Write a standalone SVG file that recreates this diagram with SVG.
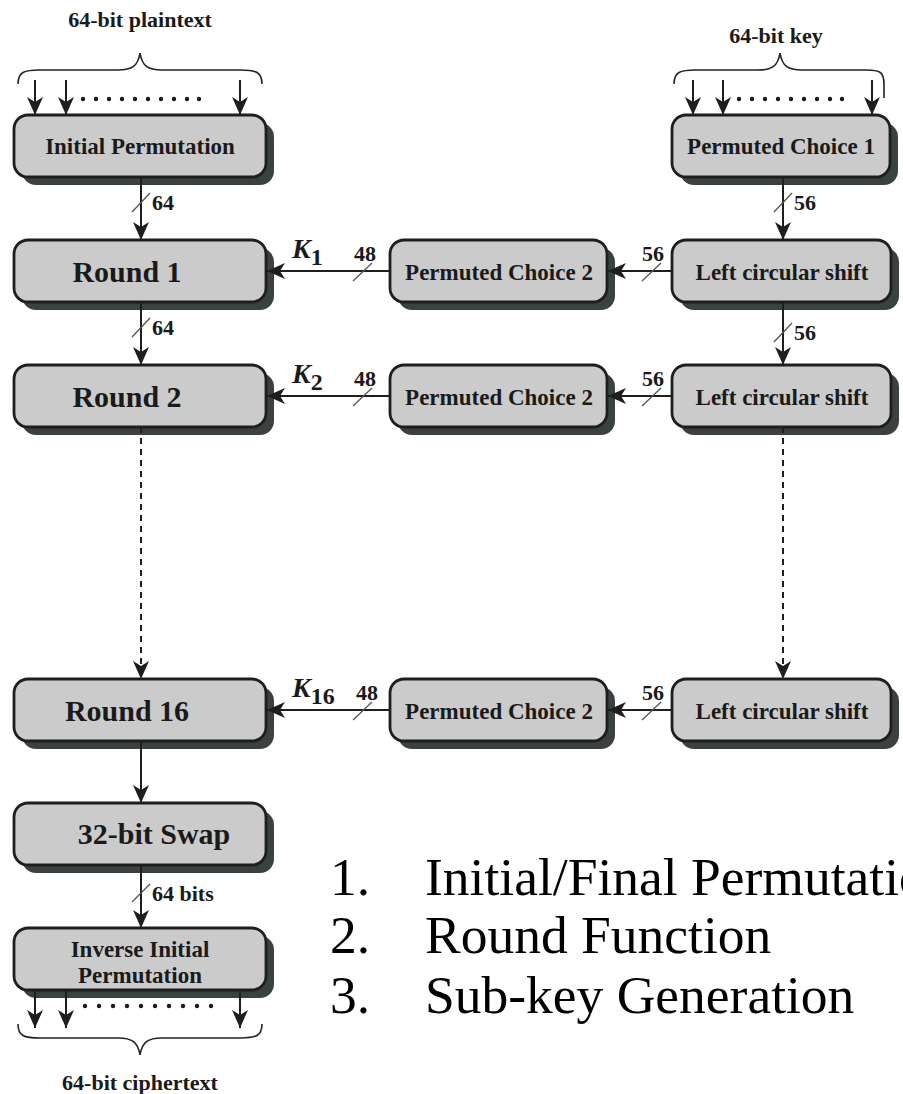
<svg xmlns="http://www.w3.org/2000/svg" width="903" height="1094" viewBox="0 0 903 1094">
<defs>
<style>
.box{fill:#cbcbcb;stroke:#1e1e1e;stroke-width:2.8}
.sh{fill:#3b4141}
.t{font-family:"Liberation Serif","Times New Roman",serif;font-weight:bold;fill:#1a1a1a;text-anchor:middle}
.big{font-size:30px}
.mid{font-size:23px}
.lab{font-size:22px;font-family:"Liberation Serif","Times New Roman",serif;font-weight:bold;fill:#1a1a1a}
.ln{stroke:#1e1e1e;stroke-width:2;fill:none}
.dash{stroke:#1e1e1e;stroke-width:2;fill:none;stroke-dasharray:6,5}
.sl{stroke:#555;stroke-width:1.3}
.br{stroke:#222;stroke-width:1.6;fill:none}
.dot{fill:#1a1a1a}
.k{font-family:"Liberation Serif","Times New Roman",serif;font-weight:bold;font-style:italic;font-size:28px;fill:#1a1a1a}
.ks{font-family:"Liberation Serif","Times New Roman",serif;font-weight:bold;font-size:24px;fill:#1a1a1a}
.list{font-family:"Liberation Serif","Times New Roman",serif;font-size:53.5px;fill:#000}
</style>
<marker id="ah" markerUnits="userSpaceOnUse" markerWidth="20" markerHeight="18" refX="18" refY="8" orient="auto">
<path d="M0,0 L18,8 L0,16 L5,8 z" fill="#1e1e1e"/>
</marker>
</defs>

<!-- Input brace and label -->
<g id="plaintext-input">
<text class="lab" x="140" y="27" text-anchor="middle">64-bit plaintext</text>
<path class="br" d="M18,84 C18,72 24,70 40,70 L118,70 C132,70 138,66 140,53 C142,66 148,70 162,70 L240,70 C256,70 262,72 262,84"/>
<g class="dot">
<circle cx="83" cy="99" r="2.2"/><circle cx="96" cy="99" r="2.2"/><circle cx="109" cy="99" r="2.2"/><circle cx="122" cy="99" r="2.2"/><circle cx="135" cy="99" r="2.2"/><circle cx="148" cy="99" r="2.2"/><circle cx="161" cy="99" r="2.2"/><circle cx="174" cy="99" r="2.2"/><circle cx="187" cy="99" r="2.2"/><circle cx="199" cy="99" r="2.2"/>
</g>
</g>

<g id="key-input">
<text class="lab" x="776" y="43" text-anchor="middle">64-bit key</text>
<path class="br" d="M674,84 C674,72 680,70 696,70 L758,70 C772,70 778,66 780,53 C782,66 788,70 802,70 L866,70 C880,70 884,72 884,84 L884,98"/>
<g class="dot">
<circle cx="739" cy="99" r="2.2"/><circle cx="752" cy="99" r="2.2"/><circle cx="765" cy="99" r="2.2"/><circle cx="778" cy="99" r="2.2"/><circle cx="791" cy="99" r="2.2"/><circle cx="804" cy="99" r="2.2"/><circle cx="817" cy="99" r="2.2"/><circle cx="830" cy="99" r="2.2"/><circle cx="842" cy="99" r="2.2"/>
</g>
</g>

<!-- Nodes -->
<g id="initial-permutation">
<rect class="sh" x="22" y="123" width="252" height="62" rx="14"/>
<rect class="box" x="14" y="115" width="252" height="62" rx="14"/>
<text class="t mid" x="140" y="154">Initial Permutation</text>
</g>
<g id="permuted-choice-1">
<rect class="sh" x="680" y="123" width="218" height="62" rx="14"/>
<rect class="box" x="672" y="115" width="218" height="62" rx="14"/>
<text class="t mid" x="781" y="154">Permuted Choice 1</text>
</g>

<g id="round-1">
<rect class="sh" x="22" y="248" width="252" height="62" rx="14"/>
<rect class="box" x="14" y="240" width="252" height="62" rx="14"/>
<text class="t big" x="127" y="282">Round 1</text>
</g>
<g id="pc2-1">
<rect class="sh" x="398" y="248" width="217" height="62" rx="14"/>
<rect class="box" x="390" y="240" width="217" height="62" rx="14"/>
<text class="t mid" x="499" y="280">Permuted Choice 2</text>
</g>
<g id="lcs-1">
<rect class="sh" x="680" y="248" width="219" height="62" rx="14"/>
<rect class="box" x="672" y="240" width="219" height="62" rx="14"/>
<text class="t mid" x="782" y="280">Left circular shift</text>
</g>

<g id="round-2">
<rect class="sh" x="22" y="373" width="252" height="62" rx="14"/>
<rect class="box" x="14" y="365" width="252" height="62" rx="14"/>
<text class="t big" x="127" y="407">Round 2</text>
</g>
<g id="pc2-2">
<rect class="sh" x="398" y="373" width="217" height="62" rx="14"/>
<rect class="box" x="390" y="365" width="217" height="62" rx="14"/>
<text class="t mid" x="499" y="405">Permuted Choice 2</text>
</g>
<g id="lcs-2">
<rect class="sh" x="680" y="373" width="219" height="62" rx="14"/>
<rect class="box" x="672" y="365" width="219" height="62" rx="14"/>
<text class="t mid" x="782" y="405">Left circular shift</text>
</g>

<g id="round-16">
<rect class="sh" x="22" y="687" width="252" height="62" rx="14"/>
<rect class="box" x="14" y="679" width="252" height="62" rx="14"/>
<text class="t big" x="127" y="721">Round 16</text>
</g>
<g id="pc2-16">
<rect class="sh" x="398" y="687" width="217" height="62" rx="14"/>
<rect class="box" x="390" y="679" width="217" height="62" rx="14"/>
<text class="t mid" x="499" y="719">Permuted Choice 2</text>
</g>
<g id="lcs-16">
<rect class="sh" x="680" y="687" width="219" height="62" rx="14"/>
<rect class="box" x="672" y="679" width="219" height="62" rx="14"/>
<text class="t mid" x="782" y="719">Left circular shift</text>
</g>

<g id="swap">
<rect class="sh" x="22" y="811" width="252" height="62" rx="14"/>
<rect class="box" x="14" y="803" width="252" height="62" rx="14"/>
<text class="t big" x="154" y="844">32-bit Swap</text>
</g>

<g id="inverse-initial-permutation">
<rect class="sh" x="22" y="936" width="252" height="62" rx="14"/>
<rect class="box" x="14" y="928" width="252" height="62" rx="14"/>
<text class="t mid" x="140" y="957">Inverse Initial</text>
<text class="t mid" x="140" y="983">Permutation</text>
</g>

<g id="ciphertext-output">
<g class="dot">
<circle cx="85" cy="1006" r="2.2"/><circle cx="99" cy="1006" r="2.2"/><circle cx="113" cy="1006" r="2.2"/><circle cx="127" cy="1006" r="2.2"/><circle cx="141" cy="1006" r="2.2"/><circle cx="155" cy="1006" r="2.2"/><circle cx="169" cy="1006" r="2.2"/><circle cx="183" cy="1006" r="2.2"/><circle cx="197" cy="1006" r="2.2"/><circle cx="211" cy="1006" r="2.2"/>
</g>
<path class="br" d="M18,1024 C18,1036 24,1038 40,1038 L118,1038 C132,1038 138,1042 140,1055 C142,1042 148,1038 162,1038 L240,1038 C256,1038 262,1036 262,1024"/>
<text class="lab" x="140" y="1090" text-anchor="middle">64-bit ciphertext</text>
</g>

<!-- Connectors -->
<g id="connectors">
<line class="ln" x1="35" y1="80" x2="35" y2="115" marker-end="url(#ah)"/>
<line class="ln" x1="66" y1="80" x2="66" y2="115" marker-end="url(#ah)"/>
<line class="ln" x1="240" y1="80" x2="240" y2="115" marker-end="url(#ah)"/>
<line class="ln" x1="693" y1="80" x2="693" y2="115" marker-end="url(#ah)"/>
<line class="ln" x1="723" y1="80" x2="723" y2="115" marker-end="url(#ah)"/>
<line class="ln" x1="872" y1="80" x2="872" y2="115" marker-end="url(#ah)"/>

<line class="ln" x1="141" y1="177" x2="141" y2="240" marker-end="url(#ah)"/>
<line class="sl" x1="132" y1="212" x2="150" y2="193"/>
<text class="lab" x="152" y="210">64</text>

<line class="ln" x1="141" y1="302" x2="141" y2="365" marker-end="url(#ah)"/>
<line class="sl" x1="132" y1="337" x2="150" y2="318"/>
<text class="lab" x="152" y="335">64</text>

<line class="dash" x1="141" y1="427" x2="141" y2="679" marker-end="url(#ah)"/>
<line class="ln" x1="141" y1="741" x2="141" y2="803" marker-end="url(#ah)"/>

<line class="ln" x1="141" y1="865" x2="141" y2="928" marker-end="url(#ah)"/>
<line class="sl" x1="132" y1="902" x2="150" y2="884"/>
<text class="lab" x="152" y="901">64 bits</text>

<line class="ln" x1="35" y1="990" x2="35" y2="1028" marker-end="url(#ah)"/>
<line class="ln" x1="66" y1="990" x2="66" y2="1028" marker-end="url(#ah)"/>
<line class="ln" x1="240" y1="990" x2="240" y2="1028" marker-end="url(#ah)"/>

<line class="ln" x1="783" y1="177" x2="783" y2="240" marker-end="url(#ah)"/>
<line class="sl" x1="774" y1="212" x2="792" y2="193"/>
<text class="lab" x="794" y="210">56</text>

<line class="ln" x1="783" y1="302" x2="783" y2="365" marker-end="url(#ah)"/>
<line class="sl" x1="774" y1="342" x2="792" y2="323"/>
<text class="lab" x="794" y="340">56</text>

<line class="dash" x1="783" y1="427" x2="783" y2="679" marker-end="url(#ah)"/>

<!-- row 1 -->
<line class="ln" x1="672" y1="271" x2="608" y2="271" marker-end="url(#ah)"/>
<line class="sl" x1="642" y1="281" x2="661" y2="263"/>
<text class="lab" x="653" y="261" text-anchor="middle">56</text>
<line class="ln" x1="390" y1="271" x2="267" y2="271" marker-end="url(#ah)"/>
<line class="sl" x1="353" y1="281" x2="372" y2="263"/>
<text class="lab" x="365" y="261" text-anchor="middle">48</text>
<text class="k" x="292" y="258">K<tspan class="ks" dy="7" font-style="normal">1</tspan></text>

<!-- row 2 -->
<line class="ln" x1="672" y1="396" x2="608" y2="396" marker-end="url(#ah)"/>
<line class="sl" x1="642" y1="406" x2="661" y2="388"/>
<text class="lab" x="653" y="386" text-anchor="middle">56</text>
<line class="ln" x1="390" y1="396" x2="267" y2="396" marker-end="url(#ah)"/>
<line class="sl" x1="353" y1="406" x2="372" y2="388"/>
<text class="lab" x="365" y="386" text-anchor="middle">48</text>
<text class="k" x="292" y="383">K<tspan class="ks" dy="7" font-style="normal">2</tspan></text>

<!-- row 16 -->
<line class="ln" x1="672" y1="710" x2="608" y2="710" marker-end="url(#ah)"/>
<line class="sl" x1="642" y1="720" x2="661" y2="702"/>
<text class="lab" x="653" y="700" text-anchor="middle">56</text>
<line class="ln" x1="390" y1="710" x2="267" y2="710" marker-end="url(#ah)"/>
<line class="sl" x1="353" y1="720" x2="372" y2="702"/>
<text class="lab" x="367" y="700" text-anchor="middle">48</text>
<text class="k" x="292" y="697">K<tspan class="ks" dy="7" font-style="normal">16</tspan></text>
</g>

<!-- List -->
<g id="list">
<text class="list" x="330" y="895">1.</text>
<text class="list" x="425" y="895">Initial/Final Permutation</text>
<text class="list" x="330" y="953">2.</text>
<text class="list" x="425" y="953">Round Function</text>
<text class="list" x="330" y="1013">3.</text>
<text class="list" x="425" y="1013">Sub-key Generation</text>
</g>
</svg>
